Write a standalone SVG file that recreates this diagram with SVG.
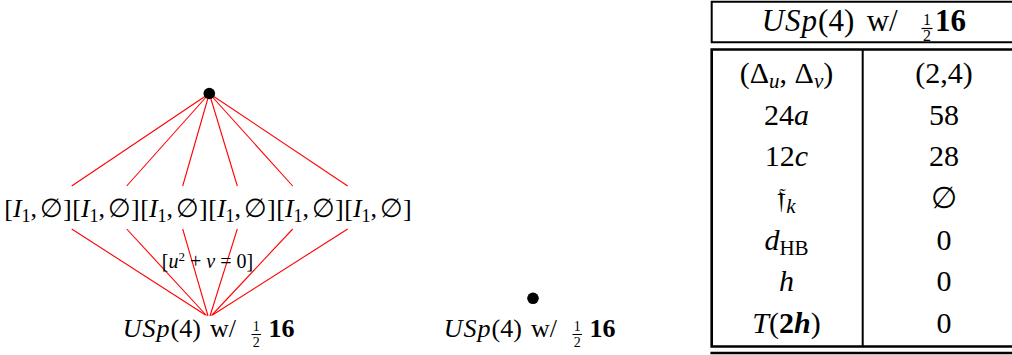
<svg xmlns="http://www.w3.org/2000/svg" width="1012" height="355" viewBox="0 0 1012 355">
<style>
.t{font-family:"Liberation Serif","DejaVu Serif",serif;fill:#000}
.i{font-style:italic}
.b{font-weight:bold}
.e{stroke:#ff0000;stroke-width:1.1;fill:none}
.k{stroke:#000;fill:none}
</style>
<rect width="1012" height="355" fill="#fff"/>
<g id="connectors">
<line class="e" x1="209.3" y1="93.5" x2="71.7" y2="186"/>
<line class="e" x1="209.3" y1="93.5" x2="126.7" y2="186"/>
<line class="e" x1="209.3" y1="93.5" x2="182.7" y2="186"/>
<line class="e" x1="209.3" y1="93.5" x2="237.3" y2="186"/>
<line class="e" x1="209.3" y1="93.5" x2="292.7" y2="186"/>
<line class="e" x1="209.3" y1="93.5" x2="347.7" y2="186"/>
<line class="e" x1="71.7" y1="229" x2="205.5" y2="315"/>
<line class="e" x1="126.7" y1="229" x2="206.5" y2="315.5"/>
<line class="e" x1="182.7" y1="229" x2="208" y2="316"/>
<line class="e" x1="237.3" y1="229" x2="210" y2="316"/>
<line class="e" x1="292.7" y1="229" x2="211.5" y2="315.5"/>
<line class="e" x1="347.7" y1="229" x2="212.5" y2="315"/>
<text class="t" x="207.5" y="268" font-size="20" text-anchor="middle" fill="#222">[<tspan class="i">u</tspan><tspan font-size="13" dy="-7">2</tspan><tspan dy="7"> + </tspan><tspan class="i">v</tspan> = 0]</text>
</g>
<g id="top">
<circle cx="209.3" cy="93.5" r="5.8" fill="#000"/>
</g>
<g id="n1"><text class="t" x="38" y="217" font-size="26" text-anchor="middle">[<tspan class="i">I</tspan><tspan font-size="18" dy="5">1</tspan><tspan dy="-5">,</tspan><tspan dx="3">∅</tspan>]</text></g>
<g id="n2"><text class="t" x="106" y="217" font-size="26" text-anchor="middle">[<tspan class="i">I</tspan><tspan font-size="18" dy="5">1</tspan><tspan dy="-5">,</tspan><tspan dx="3">∅</tspan>]</text></g>
<g id="n3"><text class="t" x="174" y="217" font-size="26" text-anchor="middle">[<tspan class="i">I</tspan><tspan font-size="18" dy="5">1</tspan><tspan dy="-5">,</tspan><tspan dx="3">∅</tspan>]</text></g>
<g id="n4"><text class="t" x="242" y="217" font-size="26" text-anchor="middle">[<tspan class="i">I</tspan><tspan font-size="18" dy="5">1</tspan><tspan dy="-5">,</tspan><tspan dx="3">∅</tspan>]</text></g>
<g id="n5"><text class="t" x="310" y="217" font-size="26" text-anchor="middle">[<tspan class="i">I</tspan><tspan font-size="18" dy="5">1</tspan><tspan dy="-5">,</tspan><tspan dx="3">∅</tspan>]</text></g>
<g id="n6"><text class="t" x="378" y="217" font-size="26" text-anchor="middle">[<tspan class="i">I</tspan><tspan font-size="18" dy="5">1</tspan><tspan dy="-5">,</tspan><tspan dx="3">∅</tspan>]</text></g>
<g id="bottom-left">
<text class="t" x="122.7" y="337" font-size="26"><tspan class="i" letter-spacing="1">USp</tspan>(4)</text>
<text class="t" x="210" y="337" font-size="26">w/</text>
<text class="t" x="256.2" y="331" font-size="14" text-anchor="middle">1</text>
<line class="k" x1="251.5" y1="334.5" x2="261" y2="334.5" stroke-width="1"/>
<text class="t" x="256.2" y="346.5" font-size="14" text-anchor="middle">2</text>
<text class="t b" x="268.5" y="337" font-size="26">16</text>
</g>
<g id="bottom-right">
<circle cx="533" cy="298.3" r="5.8" fill="#000"/>
<text class="t" x="443.7" y="337" font-size="26"><tspan class="i" letter-spacing="1">USp</tspan>(4)</text>
<text class="t" x="531" y="337" font-size="26">w/</text>
<text class="t" x="577.2" y="331" font-size="14" text-anchor="middle">1</text>
<line class="k" x1="572.5" y1="334.5" x2="582" y2="334.5" stroke-width="1"/>
<text class="t" x="577.2" y="346.5" font-size="14" text-anchor="middle">2</text>
<text class="t b" x="589.5" y="337" font-size="26">16</text>
</g>
<g id="table">
<path class="k" stroke-width="2" d="M1020,1.7 H711.7 V42.3 H1020"/>
<text class="t" x="761.7" y="30.5" font-size="31"><tspan class="i" letter-spacing="1">USp</tspan>(4)</text>
<text class="t" x="866.7" y="30.5" font-size="31">w/</text>
<text class="t" x="927" y="25" font-size="16" text-anchor="middle">1</text>
<line class="k" x1="921.5" y1="28.5" x2="932.5" y2="28.5" stroke-width="1.2"/>
<text class="t" x="927" y="40.5" font-size="16" text-anchor="middle">2</text>
<text class="t b" x="935" y="30.5" font-size="31">16</text>
<path class="k" stroke-width="2.6" d="M1020,49.5 H711.7 V346.5 H1020"/>
<line class="k" x1="710.4" y1="353" x2="1020" y2="353" stroke-width="2.6"/>
<line class="k" x1="862.7" y1="49.5" x2="862.7" y2="346.5" stroke-width="2"/>
<g font-size="30">
<text class="t" x="786.5" y="83" text-anchor="middle">(Δ<tspan class="i" font-size="21" dy="5">u</tspan><tspan dy="-5">, Δ</tspan><tspan class="i" font-size="21" dy="5">v</tspan><tspan dy="-5">)</tspan></text>
<text class="t" x="944" y="83" text-anchor="middle">(2,4)</text>
<text class="t" x="786.5" y="124.7" text-anchor="middle">24<tspan class="i">a</tspan></text>
<text class="t" x="944" y="124.7" text-anchor="middle">58</text>
<text class="t" x="786.5" y="166.3" text-anchor="middle">12<tspan class="i">c</tspan></text>
<text class="t" x="944" y="166.3" text-anchor="middle">28</text>
<text class="t" x="786.5" y="208" text-anchor="middle">𝔣<tspan class="i" font-size="21" dy="5">k</tspan></text>
<text class="t" x="944" y="208" text-anchor="middle">∅</text>
<text class="t" x="786.5" y="249.7" text-anchor="middle"><tspan class="i">d</tspan><tspan font-size="21" dy="5">HB</tspan></text>
<text class="t" x="944" y="249.7" text-anchor="middle">0</text>
<text class="t" x="786.5" y="291.3" text-anchor="middle"><tspan class="i">h</tspan></text>
<text class="t" x="944" y="291.3" text-anchor="middle">0</text>
<text class="t" x="786.5" y="333" text-anchor="middle"><tspan class="i">T</tspan>(<tspan class="b">2</tspan><tspan class="b i">h</tspan>)</text>
<text class="t" x="944" y="333" text-anchor="middle">0</text>
</g>
</g>
</svg>
